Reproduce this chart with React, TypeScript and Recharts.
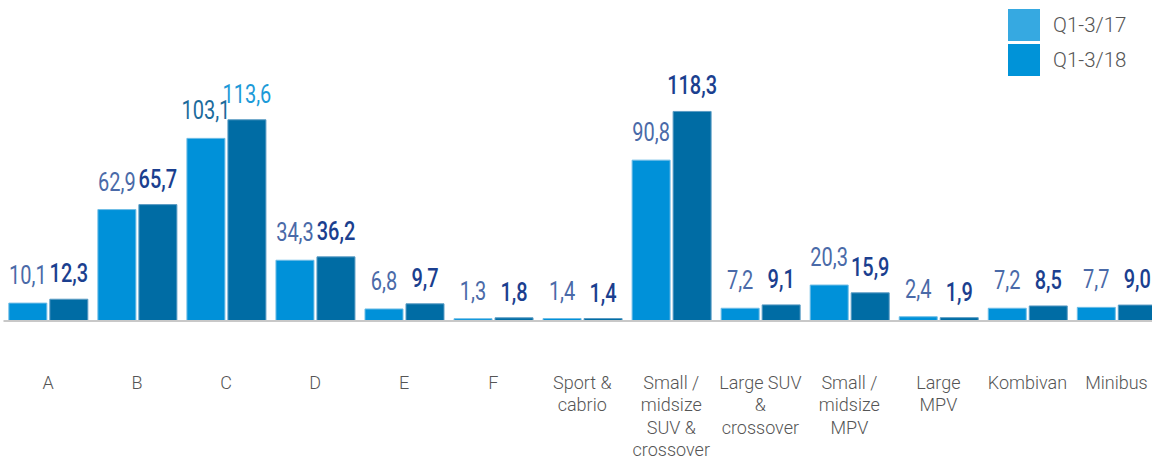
import { BarChart, Bar, XAxis, YAxis, LabelList } from "recharts";

const categories = [
  "A", "B", "C", "D", "E", "F", "Sport & cabrio", "Small / midsize SUV & crossover",
  "Large SUV & crossover", "Small / midsize MPV", "Large MPV", "Kombivan", "Minibus",
];
// how each category label is wrapped under the axis
const categoryLines = [
  ["A"], ["B"], ["C"], ["D"], ["E"], ["F"],
  ["Sport &", "cabrio"],
  ["Small /", "midsize", "SUV &", "crossover"],
  ["Large SUV", "&", "crossover"],
  ["Small /", "midsize", "MPV"],
  ["Large", "MPV"],
  ["Kombivan"],
  ["Minibus"],
];
const q17 = [10.1, 62.9, 103.1, 34.3, 6.8, 1.3, 1.4, 90.8, 7.2, 20.3, 2.4, 7.2, 7.7];
const q18 = [12.3, 65.7, 113.6, 36.2, 9.7, 1.8, 1.4, 118.3, 9.1, 15.9, 1.9, 8.5, 9.0];
const seriesNames = ["Q1-3/17", "Q1-3/18"];

const data = categories.map((name, i) => ({ name, q17: q17[i], q18: q18[i] }));

const BAR1 = "#0091d9";
const BAR2 = "#006ca4";
const LEG1 = "#36a9e1";
const LEG2 = "#0093d8";
const LABEL1 = "#4a6aa8";
const LABEL2 = "#1b3f8f";

const fmt = (v: number) => v.toFixed(1).replace(".", ",");

function CategoryTick({ x, y, payload, index }: any) {
  const lines = categoryLines[index] ?? [String(payload.value)];
  return (
    <text x={x} y={y + 60} textAnchor="middle" fill="#555" fontSize={18}
      fontFamily="Roboto, sans-serif" fontWeight={300}>
      {lines.map((l, i) => (
        <tspan key={i} x={x} dy={i === 0 ? 0 : 22.3}>{l}</tspan>
      ))}
    </text>
  );
}

function makeLabel(series: 0 | 1) {
  return function ValueLabel({ x, y, width, value, index }: any) {
    let color = series === 0 ? LABEL1 : LABEL2;
    // the C pair is coloured differently in the source
    if (index === 2) color = series === 0 ? "#1c6b9c" : "#1c9ad8";
    const cx = x + width / 2;
    const ty = y - (series === 0 ? 19 : 17);
    // narrow the face to mimic the condensed figures of the original
    return (
      <text transform={`translate(${cx},${ty}) scale(0.8,1)`} textAnchor="middle" fill={color}
        fontSize={25} fontFamily="Roboto, sans-serif"
        fontWeight={series === 1 && index !== 2 ? 500 : 400}>
        {fmt(value)}
      </text>
    );
  };
}

function LegendBox() {
  const colors = [LEG1, LEG2];
  return (
    <div style={{ position: "absolute", left: 1008, top: 9, display: "flex", flexDirection: "column", gap: 3 }}>
      {seriesNames.map((n, i) => (
        <div key={n} style={{ display: "flex", alignItems: "center", height: 32 }}>
          <div style={{ width: 32, height: 32, background: colors[i] }} />
          <span style={{ marginLeft: 13, fontSize: 20.5, color: "#555", fontFamily: "Roboto, sans-serif", fontWeight: 300 }}>
            {n}
          </span>
        </div>
      ))}
    </div>
  );
}

export default function App() {
  return (
    <div style={{ position: "absolute", left: 0, top: 0, width: 1152, height: 457, overflow: "hidden", background: "#fff" }}>
      <BarChart width={1166} height={457} data={data}
        margin={{ top: 73, right: 5, left: 3.5, bottom: 135 }}
        barCategoryGap="6%" barGap={3}>
        <YAxis hide domain={[0, 140]} />
        <XAxis dataKey="name" height={1} axisLine={{ stroke: "#c8c8c8", strokeWidth: 2 }} tickLine={false}
          interval={0} tick={<CategoryTick />} />
        <Bar dataKey="q17" fill={BAR1} stroke="#6fbde6" strokeWidth={1} isAnimationActive={false}>
          <LabelList dataKey="q17" content={makeLabel(0)} />
        </Bar>
        <Bar dataKey="q18" fill={BAR2} stroke="#5b9cc4" strokeWidth={1} isAnimationActive={false}>
          <LabelList dataKey="q18" content={makeLabel(1)} />
        </Bar>
      </BarChart>
      <LegendBox />
    </div>
  );
}
